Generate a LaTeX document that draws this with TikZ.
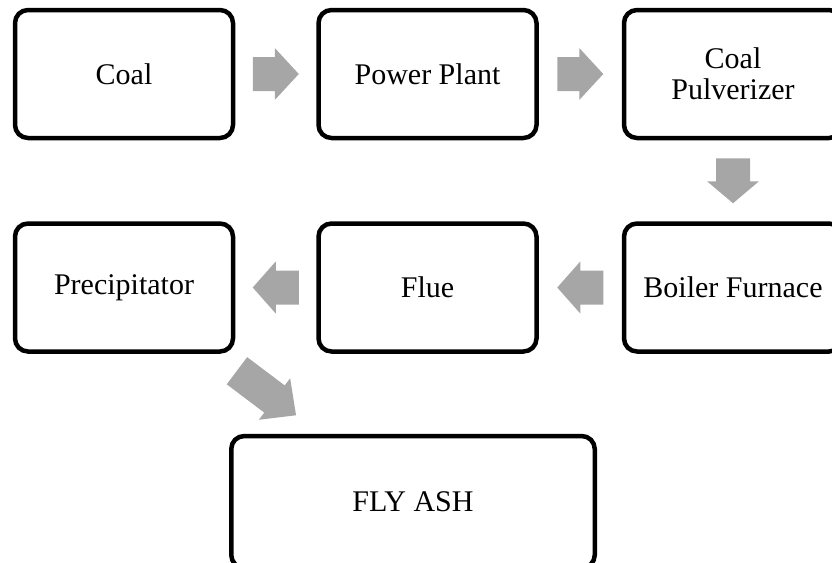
\documentclass[tikz,border=0pt]{standalone}
\usepackage{fontspec}
\setmainfont{Liberation Serif}
\usetikzlibrary{calc}
\definecolor{arrowgray}{HTML}{A6A6A6}
\tikzset{
  stepbox/.style={draw=black, line width=4.5pt, rounded corners=13pt,
    minimum width=218pt, minimum height=128pt, align=center,
    font=\fontsize{30}{31}\selectfont, inner sep=0pt},
  bigbox/.style={stepbox, minimum width=363.5pt, minimum height=132pt}
}
\newcommand\BArrow[2]{\fill[arrowgray] ({-#1/2},-17) -- ({#1/2-#2},-17) -- ({#1/2-#2},-26) -- ({#1/2},0) -- ({#1/2-#2},26) -- ({#1/2-#2},17) -- ({-#1/2},17) -- cycle;}
\begin{document}
\begin{tikzpicture}[x=1pt,y=-1pt]
\useasboundingbox (0,0) rectangle (832,562);
\clip (0,0) rectangle (832,562);
\node[stepbox] (coal) at (124,74) {Coal};
\node[stepbox] (pp) at (427.5,74) {Power Plant};
\node[stepbox] (pulv) at (733,74) {Coal\\Pulverizer};
\node[stepbox] (boiler) at (733,287.5) {Boiler Furnace};
\node[stepbox] (flue) at (427.5,287.5) {Flue};
\node[stepbox] (prec) at (124,287.5) {Precipitator};
\node[bigbox] (ash) at (413,502) {FLY ASH};
\coordinate (diag) at (266.5,393);
\begin{scope}[shift={($(coal.east)!0.5!(pp.west)$)}]\BArrow{46}{24}\end{scope}
\begin{scope}[shift={($(pp.east)!0.5!(pulv.west)$)}]\BArrow{46}{24}\end{scope}
\begin{scope}[shift={($(pulv.south)!0.5!(boiler.north)$)},rotate=-90]\BArrow{45}{22}\end{scope}
\begin{scope}[shift={($(boiler.west)!0.5!(flue.east)$)},rotate=180]\BArrow{46}{23}\end{scope}
\begin{scope}[shift={($(flue.west)!0.5!(prec.east)$)},rotate=180]\BArrow{46}{23}\end{scope}
\begin{scope}[shift={(diag)},rotate=-37]\BArrow{74}{27}\end{scope}
\end{tikzpicture}
\end{document}
